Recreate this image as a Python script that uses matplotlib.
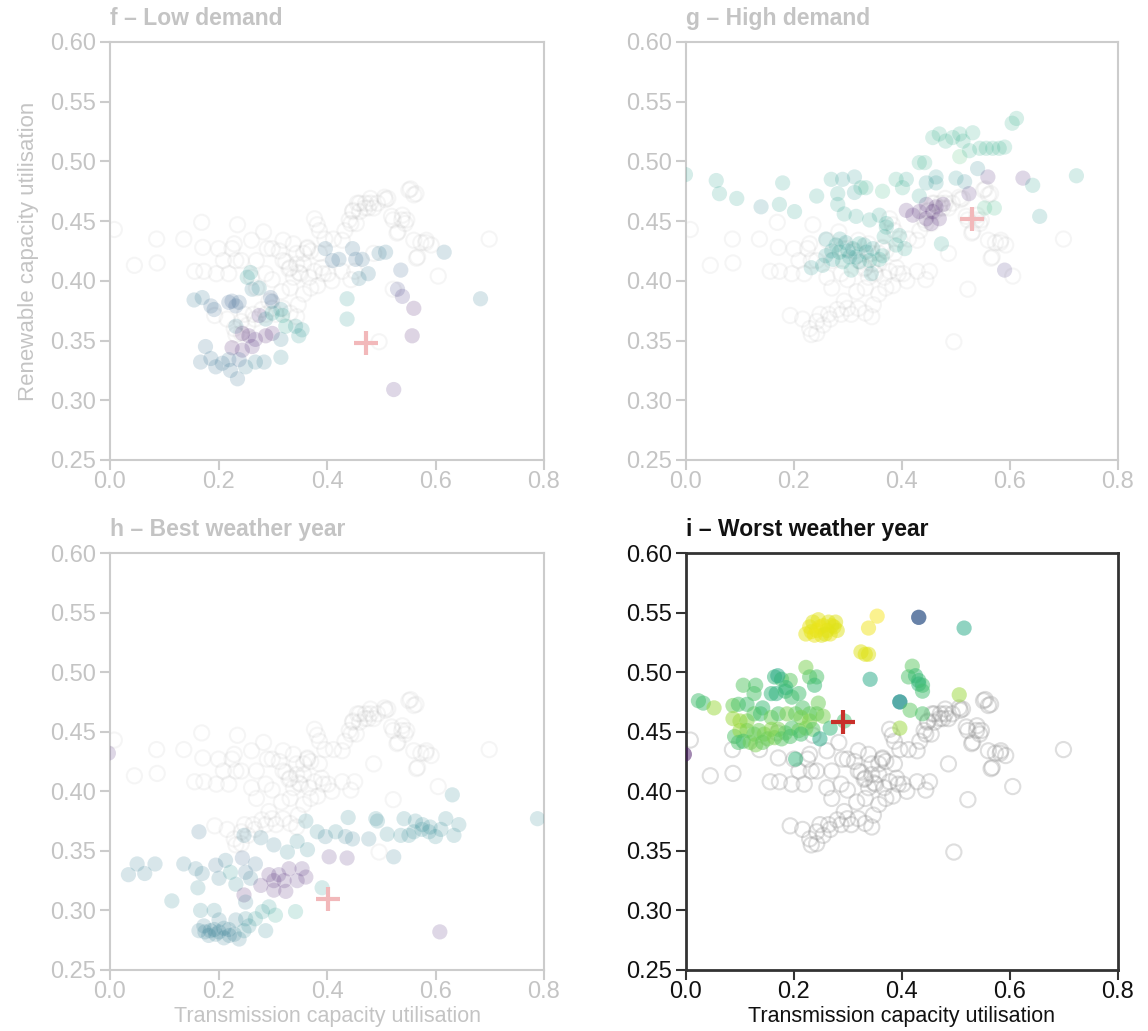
import matplotlib
matplotlib.use("Agg")
import matplotlib.pyplot as plt

plt.rcParams['font.family'] = ['Liberation Sans', 'DejaVu Sans']

# background scenarios (hollow, same in every panel)
hollow_x = [0.008, 0.045, 0.087, 0.086, 0.156, 0.173, 0.171, 0.196, 0.219, 0.209, 0.229, 0.232,
            0.242, 0.261, 0.270, 0.283, 0.290, 0.299, 0.312, 0.319, 0.338, 0.344, 0.357, 0.364,
            0.370, 0.377, 0.386, 0.386, 0.396, 0.412, 0.428, 0.433, 0.441, 0.454, 0.460, 0.470,
            0.480, 0.486, 0.493, 0.512, 0.522, 0.538, 0.547, 0.531, 0.554, 0.564, 0.560, 0.567,
            0.583, 0.592, 0.605, 0.486, 0.522, 0.496, 0.699, 0.428, 0.444, 0.451, 0.409, 0.393,
            0.377, 0.351, 0.338, 0.332, 0.316, 0.299, 0.287, 0.261, 0.270, 0.293, 0.299, 0.287,
            0.280, 0.264, 0.248, 0.242, 0.229, 0.242, 0.232, 0.254, 0.267, 0.193, 0.216, 0.306,
            0.319, 0.332, 0.344, 0.347, 0.357, 0.370, 0.383, 0.367, 0.357, 0.344, 0.332, 0.319,
            0.390, 0.402, 0.444, 0.448, 0.460, 0.476, 0.506, 0.480, 0.519, 0.544, 0.573,
            0.136, 0.169, 0.200, 0.225, 0.235, 0.324, 0.330, 0.348, 0.364, 0.382, 0.447, 0.456,
            0.471, 0.508, 0.529, 0.539, 0.551, 0.560, 0.565, 0.582]
hollow_y = [0.443, 0.413, 0.415, 0.435, 0.408, 0.408, 0.428, 0.406, 0.406, 0.417, 0.431, 0.417,
            0.417, 0.434, 0.417, 0.441, 0.427, 0.427, 0.425, 0.434, 0.431, 0.423, 0.423, 0.428,
            0.425, 0.452, 0.442, 0.423, 0.435, 0.435, 0.434, 0.442, 0.451, 0.448, 0.465, 0.461,
            0.465, 0.461, 0.465, 0.469, 0.451, 0.451, 0.451, 0.441, 0.477, 0.473, 0.434, 0.420,
            0.434, 0.430, 0.404, 0.423, 0.393, 0.349, 0.435, 0.408, 0.401, 0.408, 0.400, 0.406,
            0.408, 0.406, 0.403, 0.394, 0.391, 0.401, 0.406, 0.403, 0.394, 0.383, 0.377, 0.372,
            0.376, 0.372, 0.372, 0.366, 0.360, 0.356, 0.355, 0.363, 0.368, 0.371, 0.368, 0.372,
            0.377, 0.373, 0.370, 0.380, 0.389, 0.394, 0.396, 0.403, 0.414, 0.414, 0.411, 0.417,
            0.411, 0.406, 0.448, 0.459, 0.458, 0.461, 0.470, 0.469, 0.454, 0.448, 0.432,
            0.435, 0.449, 0.427, 0.427, 0.447, 0.416, 0.410, 0.407, 0.427, 0.447, 0.458, 0.465,
            0.465, 0.468, 0.440, 0.455, 0.476, 0.472, 0.419, 0.432]

# f - low demand
f_x = [0.397, 0.410, 0.422, 0.447, 0.453, 0.465, 0.496, 0.508, 0.459, 0.476, 0.616, 0.536,
       0.530, 0.539, 0.560, 0.557, 0.523, 0.683, 0.437, 0.437,
       0.155, 0.170, 0.186, 0.192, 0.219, 0.225, 0.238, 0.232, 0.259, 0.253, 0.262, 0.275,
       0.296, 0.299, 0.315, 0.275, 0.287, 0.299, 0.318, 0.324, 0.342, 0.354, 0.348, 0.232,
       0.244, 0.256, 0.268, 0.287, 0.299, 0.315, 0.225, 0.244, 0.262, 0.176, 0.167, 0.186,
       0.195, 0.207, 0.222, 0.235, 0.250, 0.268, 0.284, 0.315, 0.219, 0.238]
f_y = [0.427, 0.417, 0.418, 0.427, 0.418, 0.418, 0.423, 0.424, 0.402, 0.406, 0.424, 0.409,
       0.393, 0.387, 0.377, 0.354, 0.309, 0.385, 0.385, 0.368,
       0.384, 0.386, 0.379, 0.376, 0.382, 0.383, 0.382, 0.379, 0.407, 0.403, 0.393, 0.394,
       0.386, 0.383, 0.376, 0.371, 0.368, 0.373, 0.371, 0.362, 0.362, 0.359, 0.354, 0.362,
       0.356, 0.354, 0.351, 0.354, 0.356, 0.351, 0.344, 0.342, 0.345, 0.345, 0.332, 0.335,
       0.328, 0.331, 0.325, 0.318, 0.328, 0.332, 0.332, 0.336, 0.334, 0.334]
f_c = [0.35, 0.33, 0.35, 0.35, 0.33, 0.35, 0.38, 0.38, 0.40, 0.38, 0.38, 0.30,
       0.20, 0.15, 0.05, 0.05, 0.10, 0.40, 0.50, 0.50,
       0.38, 0.38, 0.32, 0.32, 0.30, 0.30, 0.32, 0.30, 0.50, 0.50, 0.40, 0.45,
       0.30, 0.30, 0.45, 0.10, 0.45, 0.50, 0.55, 0.55, 0.50, 0.50, 0.50, 0.40,
       0.05, 0.08, 0.10, 0.05, 0.08, 0.40, 0.05, 0.08, 0.10, 0.35, 0.35, 0.35,
       0.35, 0.35, 0.35, 0.35, 0.40, 0.40, 0.40, 0.45, 0.35, 0.30]

# g - high demand
g_x = [-0.001, 0.056, 0.062, 0.094, 0.139, 0.173, 0.179, 0.201, 0.242, 0.269, 0.281, 0.281,
       0.290, 0.312, 0.312, 0.324, 0.333, 0.293, 0.315, 0.340, 0.358, 0.371, 0.364, 0.389,
       0.401, 0.408, 0.432, 0.432, 0.445, 0.463, 0.463, 0.500, 0.516, 0.540, 0.559, 0.624,
       0.642, 0.655, 0.723, 0.590, 0.524, 0.553, 0.571, 0.473,
       0.457, 0.469, 0.481, 0.494, 0.507, 0.513, 0.531, 0.544, 0.556, 0.568, 0.580, 0.590,
       0.507, 0.525, 0.604, 0.612, 0.442,
       0.408, 0.420, 0.432, 0.445, 0.457, 0.463, 0.476, 0.469, 0.454, 0.445,
       0.259, 0.278, 0.284, 0.296, 0.309, 0.321, 0.334, 0.346, 0.358, 0.259, 0.272, 0.290,
       0.303, 0.321, 0.340, 0.232, 0.253, 0.306, 0.343, 0.364, 0.389, 0.405, 0.367, 0.395,
       0.371, 0.270, 0.300, 0.315, 0.285, 0.330]
g_y = [0.489, 0.484, 0.473, 0.469, 0.462, 0.464, 0.482, 0.458, 0.471, 0.485, 0.473, 0.464,
       0.485, 0.487, 0.474, 0.478, 0.478, 0.456, 0.454, 0.451, 0.455, 0.448, 0.475, 0.485,
       0.478, 0.485, 0.471, 0.499, 0.482, 0.487, 0.482, 0.486, 0.483, 0.494, 0.487, 0.486,
       0.480, 0.454, 0.488, 0.409, 0.473, 0.461, 0.461, 0.431,
       0.520, 0.523, 0.517, 0.520, 0.523, 0.517, 0.524, 0.511, 0.511, 0.511, 0.511, 0.512,
       0.504, 0.509, 0.532, 0.536, 0.499,
       0.459, 0.455, 0.458, 0.464, 0.458, 0.462, 0.464, 0.452, 0.448, 0.452,
       0.435, 0.430, 0.424, 0.432, 0.427, 0.431, 0.424, 0.427, 0.418, 0.421, 0.418, 0.416,
       0.420, 0.416, 0.417, 0.411, 0.413, 0.409, 0.406, 0.421, 0.430, 0.427, 0.437, 0.438,
       0.445, 0.425, 0.425, 0.420, 0.435, 0.430]
g_c = [0.55, 0.55, 0.55, 0.55, 0.45, 0.55, 0.55, 0.55, 0.55, 0.55, 0.55, 0.55,
       0.50, 0.50, 0.50, 0.60, 0.60, 0.55, 0.55, 0.55, 0.55, 0.55, 0.65, 0.60,
       0.60, 0.55, 0.55, 0.60, 0.50, 0.50, 0.50, 0.50, 0.45, 0.45, 0.10, 0.10,
       0.55, 0.50, 0.55, 0.15, 0.10, 0.65, 0.65, 0.55,
       0.60, 0.60, 0.60, 0.60, 0.60, 0.60, 0.60, 0.60, 0.60, 0.60, 0.60, 0.60,
       0.70, 0.60, 0.60, 0.60, 0.60,
       0.08, 0.08, 0.08, 0.08, 0.08, 0.08, 0.08, 0.08, 0.08, 0.08,
       0.50, 0.52, 0.55, 0.50, 0.52, 0.55, 0.50, 0.52, 0.55, 0.50, 0.52, 0.55,
       0.50, 0.52, 0.55, 0.50, 0.52, 0.55, 0.50, 0.55, 0.55, 0.55, 0.55, 0.55,
       0.55, 0.52, 0.52, 0.52, 0.52, 0.52]

# h - best weather year
h_x = [0.034, 0.050, 0.064, 0.083, 0.114, 0.136, 0.158, 0.164, 0.170, 0.162, 0.167, 0.192,
       0.164, 0.173, 0.182, 0.192, 0.201, 0.210, 0.219, 0.229, 0.238, 0.247, 0.256, 0.268,
       0.281, 0.293, 0.305, 0.287, 0.342, 0.250, 0.232, 0.201, 0.175, 0.185, 0.195, 0.210, 0.220,
       0.195, 0.213, 0.222, 0.232, 0.244, 0.250, 0.259, 0.268, 0.247, 0.250, 0.278, 0.293,
       0.302, 0.311, 0.324, 0.330, 0.345, 0.354, 0.361, 0.302, 0.391, 0.321, 0.201,
       0.247, 0.278, 0.302, 0.327, 0.345, 0.361, 0.364, 0.382, 0.397, 0.404, 0.416, 0.434,
       0.437, 0.439, 0.447, 0.477, 0.490, 0.493, 0.511, 0.523, 0.536, 0.542, 0.551, 0.563,
       0.576, 0.588, 0.600, 0.619, 0.631, 0.634, 0.643, 0.788, 0.560, 0.575, 0.590, 0.610,
       0.608, -0.003]
h_y = [0.330, 0.339, 0.331, 0.339, 0.308, 0.339, 0.335, 0.366, 0.331, 0.319, 0.300, 0.300,
       0.283, 0.287, 0.279, 0.284, 0.282, 0.277, 0.284, 0.280, 0.276, 0.283, 0.287, 0.293,
       0.299, 0.303, 0.296, 0.283, 0.299, 0.293, 0.292, 0.292, 0.282, 0.283, 0.280, 0.285, 0.279,
       0.338, 0.342, 0.332, 0.322, 0.344, 0.332, 0.327, 0.339, 0.313, 0.307, 0.321, 0.330,
       0.325, 0.330, 0.316, 0.335, 0.325, 0.335, 0.328, 0.317, 0.319, 0.325, 0.327,
       0.363, 0.361, 0.355, 0.349, 0.358, 0.375, 0.351, 0.366, 0.362, 0.345, 0.366, 0.362,
       0.344, 0.378, 0.360, 0.360, 0.377, 0.375, 0.364, 0.345, 0.363, 0.377, 0.363, 0.375,
       0.372, 0.366, 0.362, 0.377, 0.397, 0.363, 0.372, 0.377, 0.366, 0.368, 0.370, 0.368,
       0.282, 0.432]
h_c = [0.40, 0.40, 0.40, 0.40, 0.45, 0.40, 0.40, 0.35, 0.40, 0.45, 0.45, 0.45,
       0.40, 0.40, 0.40, 0.40, 0.40, 0.40, 0.40, 0.40, 0.40, 0.45, 0.45, 0.50,
       0.50, 0.50, 0.55, 0.45, 0.55, 0.45, 0.40, 0.40, 0.40, 0.40, 0.40, 0.40, 0.40,
       0.35, 0.40, 0.50, 0.45, 0.30, 0.35, 0.40, 0.35, 0.05, 0.40, 0.08, 0.08,
       0.08, 0.10, 0.08, 0.08, 0.10, 0.10, 0.08, 0.08, 0.50, 0.08, 0.40,
       0.40, 0.40, 0.40, 0.45, 0.45, 0.45, 0.45, 0.45, 0.40, 0.10, 0.45, 0.40,
       0.10, 0.45, 0.40, 0.40, 0.45, 0.45, 0.45, 0.40, 0.45, 0.45, 0.45, 0.45,
       0.45, 0.45, 0.45, 0.45, 0.45, 0.45, 0.45, 0.45, 0.45, 0.45, 0.45, 0.45,
       0.10, 0.10]

# i - worst weather year
i_x = [0.222, 0.229, 0.235, 0.242, 0.245, 0.251, 0.254, 0.261, 0.264, 0.267, 0.274, 0.277,
       0.232, 0.248, 0.258, 0.270, 0.238, 0.280,
       0.354, 0.338, 0.324, 0.332, 0.338, 0.431, 0.431, 0.515, 0.341, 0.396, 0.396, 0.396,
       0.419, 0.412, 0.425, 0.431, 0.438, 0.431, 0.438, 0.415, 0.438, 0.506,
       -0.003, 0.023, 0.032, 0.052,
       0.106, 0.129, 0.164, 0.177, 0.193, 0.222, 0.229, 0.242, 0.238,
       0.087, 0.097, 0.113, 0.126, 0.142, 0.158, 0.167, 0.184, 0.196, 0.209, 0.216, 0.229, 0.245,
       0.087, 0.100, 0.113, 0.126, 0.138, 0.158, 0.171, 0.187, 0.203, 0.213, 0.229, 0.242, 0.254,
       0.090, 0.100, 0.113, 0.126, 0.135, 0.145, 0.158, 0.171, 0.184, 0.196, 0.209, 0.222, 0.235, 0.267,
       0.097, 0.106, 0.119, 0.129, 0.142, 0.151, 0.164, 0.177, 0.193, 0.213, 0.248,
       0.203, 0.293, 0.170, 0.185]
i_y = [0.532, 0.538, 0.542, 0.535, 0.544, 0.531, 0.539, 0.535, 0.542, 0.532, 0.538, 0.542,
       0.534, 0.538, 0.532, 0.539, 0.531, 0.535,
       0.547, 0.537, 0.517, 0.515, 0.515, 0.546, 0.546, 0.537, 0.494, 0.475, 0.475, 0.453,
       0.505, 0.496, 0.497, 0.493, 0.489, 0.490, 0.484, 0.468, 0.465, 0.481,
       0.431, 0.476, 0.474, 0.470,
       0.489, 0.489, 0.496, 0.494, 0.493, 0.504, 0.496, 0.496, 0.489,
       0.472, 0.473, 0.473, 0.482, 0.470, 0.482, 0.482, 0.484, 0.479, 0.482, 0.470, 0.465, 0.474,
       0.461, 0.459, 0.459, 0.465, 0.465, 0.462, 0.465, 0.465, 0.465, 0.462, 0.459, 0.465, 0.463,
       0.446, 0.451, 0.451, 0.448, 0.451, 0.448, 0.452, 0.452, 0.449, 0.453, 0.451, 0.453, 0.452, 0.453,
       0.441, 0.442, 0.441, 0.439, 0.441, 0.444, 0.445, 0.444, 0.446, 0.448, 0.444,
       0.427, 0.459, 0.497, 0.487]
i_c = [0.96, 0.97, 0.95, 0.97, 0.96, 0.95, 0.97, 0.96, 0.95, 0.97, 0.96, 0.95,
       0.96, 0.97, 0.95, 0.96, 0.97, 0.95,
       0.99, 0.98, 0.95, 0.95, 0.95, 0.28, 0.28, 0.60, 0.60, 0.50, 0.50, 0.85,
       0.75, 0.72, 0.68, 0.68, 0.70, 0.66, 0.70, 0.75, 0.72, 0.85,
       0.05, 0.70, 0.70, 0.85,
       0.74, 0.72, 0.66, 0.70, 0.75, 0.80, 0.74, 0.72, 0.68,
       0.78, 0.72, 0.70, 0.72, 0.68, 0.66, 0.64, 0.68, 0.70, 0.70, 0.72, 0.76, 0.78,
       0.85, 0.85, 0.82, 0.75, 0.70, 0.78, 0.72, 0.80, 0.76, 0.80, 0.82, 0.76, 0.80,
       0.72, 0.85, 0.80, 0.76, 0.78, 0.80, 0.82, 0.80, 0.76, 0.72, 0.78, 0.80, 0.74, 0.66,
       0.72, 0.70, 0.78, 0.80, 0.76, 0.78, 0.80, 0.74, 0.72, 0.70, 0.60,
       0.66, 0.70, 0.60, 0.66]

crosses = {'f': (0.471, 0.348), 'g': (0.530, 0.452), 'h': (0.401, 0.310), 'i': (0.291, 0.458)}
titles = {'f': 'f – Low demand', 'g': 'g – High demand',
          'h': 'h – Best weather year', 'i': 'i – Worst weather year'}


def draw_panel(ax, key, xs, ys, cs, active):
    txt = '#111111' if active else '#c4c4c4'
    spine = '#333333' if active else '#cccccc'
    ax.scatter(hollow_x, hollow_y, s=120, facecolors='none',
               edgecolors='#9a9a9a', linewidths=1.5,
               alpha=0.32 if active else 0.09, zorder=2)
    ax.scatter(xs, ys, c=cs, cmap='viridis', vmin=0, vmax=1, s=120,
               linewidths=0, alpha=0.5 if active else 0.18, zorder=3)
    cx, cy = crosses[key]
    ax.plot(cx, cy, marker='+', ms=17, mew=3,
            color='#c8302a' if active else '#f2b8ba', zorder=4)
    ax.set_xlim(0, 0.8)
    ax.set_ylim(0.25, 0.6)
    ax.set_xticks([0, 0.2, 0.4, 0.6, 0.8])
    ax.set_xticklabels(['0.0', '0.2', '0.4', '0.6', '0.8'])
    ax.set_yticks([0.25, 0.30, 0.35, 0.40, 0.45, 0.50, 0.55, 0.60])
    ax.set_yticklabels(['0.25', '0.30', '0.35', '0.40', '0.45', '0.50', '0.55', '0.60'])
    ax.tick_params(direction='out', length=7, width=1.5, colors=spine,
                   labelcolor=txt, labelsize=17, pad=3)
    ax.tick_params(axis='x', pad=1)
    for sp in ax.spines.values():
        sp.set_color(spine)
        sp.set_linewidth(2 if active else 1.5)
    ax.set_title(titles[key], loc='left', fontsize=16.5, fontweight='bold',
                 color=txt, pad=12)


fig = plt.figure(figsize=(11.48, 10.31), dpi=100)
ax_f = fig.add_axes([110 / 1148, 1 - 460 / 1031, 434 / 1148, 418 / 1031])
ax_g = fig.add_axes([686 / 1148, 1 - 460 / 1031, 432 / 1148, 418 / 1031])
ax_h = fig.add_axes([110 / 1148, 1 - 970 / 1031, 434 / 1148, 417 / 1031])
ax_i = fig.add_axes([686 / 1148, 1 - 970 / 1031, 432 / 1148, 417 / 1031])

draw_panel(ax_f, 'f', f_x, f_y, f_c, False)
draw_panel(ax_g, 'g', g_x, g_y, g_c, False)
draw_panel(ax_h, 'h', h_x, h_y, h_c, False)
draw_panel(ax_i, 'i', i_x, i_y, i_c, True)

ax_f.set_ylabel('Renewable capacity utilisation', fontsize=16, color='#c4c4c4', labelpad=8)
ax_h.set_xlabel('Transmission capacity utilisation', fontsize=15.5, color='#c4c4c4', labelpad=2)
ax_i.set_xlabel('Transmission capacity utilisation', fontsize=15.5, color='#111111', labelpad=2)

fig.savefig('out.png', dpi=100)
